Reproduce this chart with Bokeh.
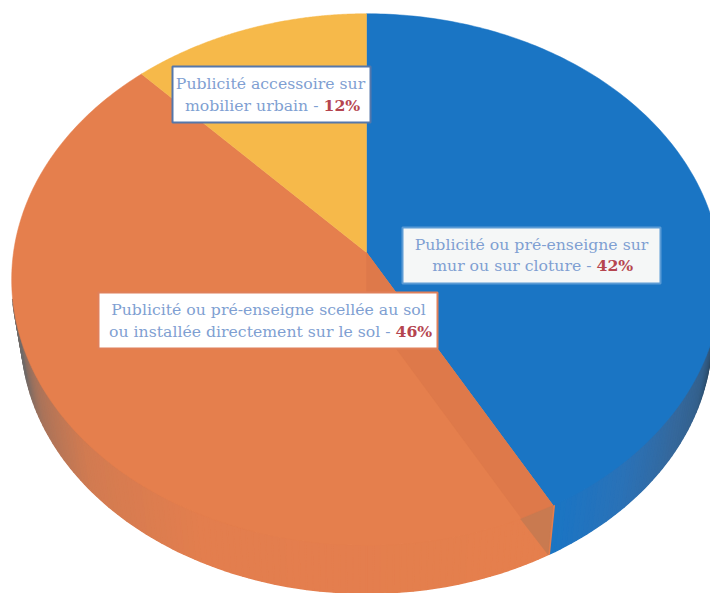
import numpy as np
from bokeh.plotting import figure
from bokeh.models import Range1d
from bokeh.core.properties import value
from bokeh.embed import file_html
from bokeh.resources import INLINE

categories = ["Publicité ou pré-enseigne sur mur ou sur cloture",
              "Publicité ou pré-enseigne scellée au sol ou installée directement sur le sol",
              "Publicité accessoire sur mobilier urbain"]
shares = [42, 46, 12]
top_colors = ["#1a75c4", "#e57f4d", "#f6b94a"]

label_line1 = ["Publicité ou pré-enseigne sur", "Publicité ou pré-enseigne scellée au sol", "Publicité accessoire sur"]
label_line2 = ["mur ou sur cloture - ", "ou installée directement sur le sol - ", "mobilier urbain - "]
label_pct = ["42%", "46%", "12%"]
box_left = [402, 98, 172]
box_right = [660, 437, 370]
box_top = [227, 292, 66]
box_bottom = [283, 348, 122]
box_fill = ["#f5f7f7", "#ffffff", "#ffffff"]
box_line = ["#5b9bd5", "#e0805a", "#5577aa"]
line1_y = [244, 309, 83]
line2_y = [265, 331, 105]
split_x = [596, 395, 323]
center_x = [531, 268, 270]

# perspective pie geometry
CX, CY, R, S, K = 366.0, 252.0, 353.0, 263.0, 0.1015
BOTTOM_SCALE, BOTTOM_DROP = 0.973, 56.0


def rim(theta):
    u, v = np.sin(theta), np.cos(theta)
    w = 1 + K * v
    return CX + R * u / w, CY - S * v / w


def lower(x, y):
    return CX + (x - CX) * BOTTOM_SCALE, CY + (y - CY) * BOTTOM_SCALE + BOTTOM_DROP


def lerp_color(stops, t):
    ts = [s[0] for s in stops]
    rgb = [np.interp(t, ts, [int(s[1][i:i + 2], 16) for s in stops]) for i in (1, 3, 5)]
    return "#%02x%02x%02x" % tuple(int(round(c)) for c in rgb)


edges = np.cumsum([0] + shares) / sum(shares) * 2 * np.pi

p = figure(width=710, height=593, output_backend="svg", toolbar_location=None,
           x_range=Range1d(0, 710), y_range=Range1d(593, 0), min_border=0)
p.axis.visible = False
p.grid.visible = False
p.outline_line_color = None
p.background_fill_color = "#ffffff"
p.border_fill_color = "#ffffff"

# outer wall
blue_wall = [(np.radians(106), "#2b4a66"), (np.radians(114), "#33608c"), (np.radians(124), "#35689c"),
             (np.radians(138), "#2a72b8"), (edges[1], "#1a75c4")]
orange_wall = [(edges[1], "#e57f4d"), (np.radians(205), "#e37e4e"), (np.radians(228), "#d27b51"),
               (np.radians(244), "#a9735a"), (np.radians(255), "#6f6a68")]
thetas = np.linspace(np.radians(100), np.radians(260), 161)
xs, ys, cs = [], [], []
for a, b in zip(thetas[:-1], thetas[1:]):
    xa, ya = rim(a)
    xb, yb = rim(b)
    xa2, ya2 = lower(xa, ya)
    xb2, yb2 = lower(xb, yb)
    xs.append([xa, xb, xb2, xa2])
    ys.append([ya, yb, yb2, ya2])
    mid = (a + b) / 2
    cs.append(lerp_color(blue_wall if mid < edges[1] else orange_wall, mid))
p.patches(xs, ys, fill_color=cs, line_color=cs, line_width=1.5)

# top faces
for i in range(len(shares)):
    th = np.linspace(edges[i], edges[i + 1], 180)
    x, y = rim(th)
    p.patch(np.r_[CX, x], np.r_[CY, y], fill_color=top_colors[i], line_color=top_colors[i], line_width=0.5)

# the slightly darker inner face seen through the orange slice
xr, yr = rim(edges[1])
xr2, yr2 = lower(xr, yr)
xc2, yc2 = lower(CX, CY)
p.patch([CX, xr, xr2, xc2], [CY, yr, yr2, yc2],
        fill_color="#de794a", line_color="#de794a", line_width=0.3)
# small cap on the wall at the slice's end
xb, yb = rim(edges[1] + np.radians(5.5))
p.patch([xr, xb, xr2], [yr, yb, yr2], fill_color="#c97a50", line_color="#c97a50", line_width=0.3)

# labels
p.quad(left=box_left, right=box_right, top=box_top, bottom=box_bottom,
       fill_color=box_fill, line_color=box_line, line_width=2)
font = value("DejaVu Serif")
p.text(center_x, line1_y, text=label_line1, text_font=font, text_font_size="15.7px",
       text_color="#7f9fd2", text_align="center", text_baseline="middle")
p.text(split_x, line2_y, text=label_line2, text_font=font, text_font_size="15.7px",
       text_color="#7f9fd2", text_align="right", text_baseline="middle")
p.text(split_x, line2_y, text=label_pct, text_font=font, text_font_size="15.7px",
       text_font_style="bold", text_color="#b5454f", text_align="left", text_baseline="middle")

open("out.html", "w").write(file_html(p, INLINE))
